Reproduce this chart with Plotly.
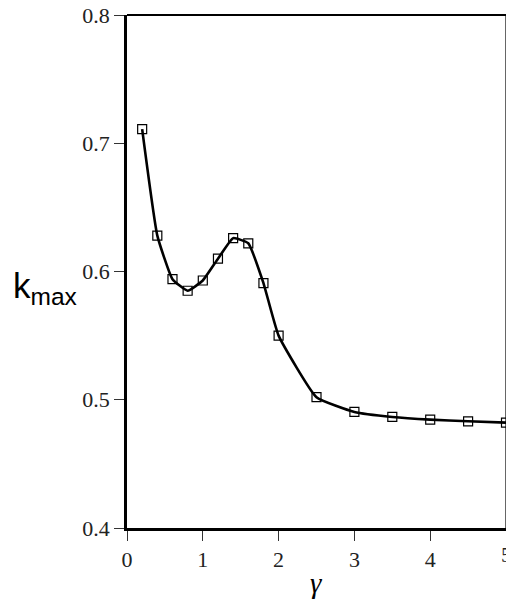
import plotly.graph_objects as go

gamma = [0.2, 0.4, 0.6, 0.8, 1.0, 1.2, 1.4, 1.6, 1.8, 2.0, 2.5, 3.0, 3.5, 4.0, 4.5, 5.0]
kmax = [0.711, 0.628, 0.594, 0.585, 0.593, 0.610, 0.626, 0.622, 0.591, 0.550,
        0.502, 0.4905, 0.4866, 0.4845, 0.4832, 0.4822]

x_ticks = [0, 1, 2, 3, 4, 5]
y_ticks = [0.4, 0.5, 0.6, 0.7, 0.8]

fig = go.Figure()
fig.add_trace(go.Scatter(
    x=gamma, y=kmax, mode="lines+markers",
    line=dict(color="black", width=2.6, shape="spline", smoothing=0.4),
    marker=dict(symbol="square-open", size=9, color="black", line=dict(width=1.2)),
    cliponaxis=False, showlegend=False,
))

tickfont = dict(family="Liberation Serif", size=22, color="#222")
fig.update_layout(
    width=506, height=600,
    margin=dict(l=127, r=0, t=15, b=72),
    paper_bgcolor="white", plot_bgcolor="white",
    xaxis=dict(range=[0, 5], tickvals=x_ticks, ticktext=[str(v) for v in x_ticks],
               showgrid=False, zeroline=False, showline=True, linecolor="black",
               linewidth=2.5, ticks="outside", ticklen=10, tickwidth=1.2,
               tickcolor="#333", tickfont=tickfont),
    yaxis=dict(range=[0.4, 0.8], tickvals=y_ticks, ticktext=["0.4", "0.5", "0.6", "0.7", "0.8"],
               showgrid=False, zeroline=False, showline=True, linecolor="black",
               linewidth=2.5, ticks="outside", ticklen=10, tickwidth=1.2,
               tickcolor="#333", tickfont=tickfont),
)

fig.add_shape(type="line", xref="paper", yref="paper", x0=0, x1=1, y0=1, y1=1,
              line=dict(color="black", width=1.8))
fig.add_shape(type="line", xref="paper", yref="paper", x0=1, x1=1, y0=0, y1=1,
              line=dict(color="black", width=1.2))

# last x tick label, half cut by the right edge as in the reference
fig.add_annotation(text=str(x_ticks[-1]), xref="x", yref="paper", x=x_ticks[-1], y=-0.0526,
                   xanchor="center", yanchor="middle", showarrow=False, font=tickfont)

fig.add_annotation(text="k<sub>max</sub>", xref="paper", yref="y", x=-0.305, y=0.5875,
                   xanchor="left", yanchor="middle", showarrow=False,
                   font=dict(family="Liberation Sans", size=35, color="black"))
fig.add_annotation(text="<i>γ</i>", xref="x", yref="paper", x=2.5, y=-0.072,
                   xanchor="center", yanchor="top", showarrow=False,
                   font=dict(family="Liberation Serif", size=29, color="black"))

fig.write_html("out.html", config={"displayModeBar": False},
               post_script="document.body.style.margin='0';document.body.style.overflow='hidden';")
